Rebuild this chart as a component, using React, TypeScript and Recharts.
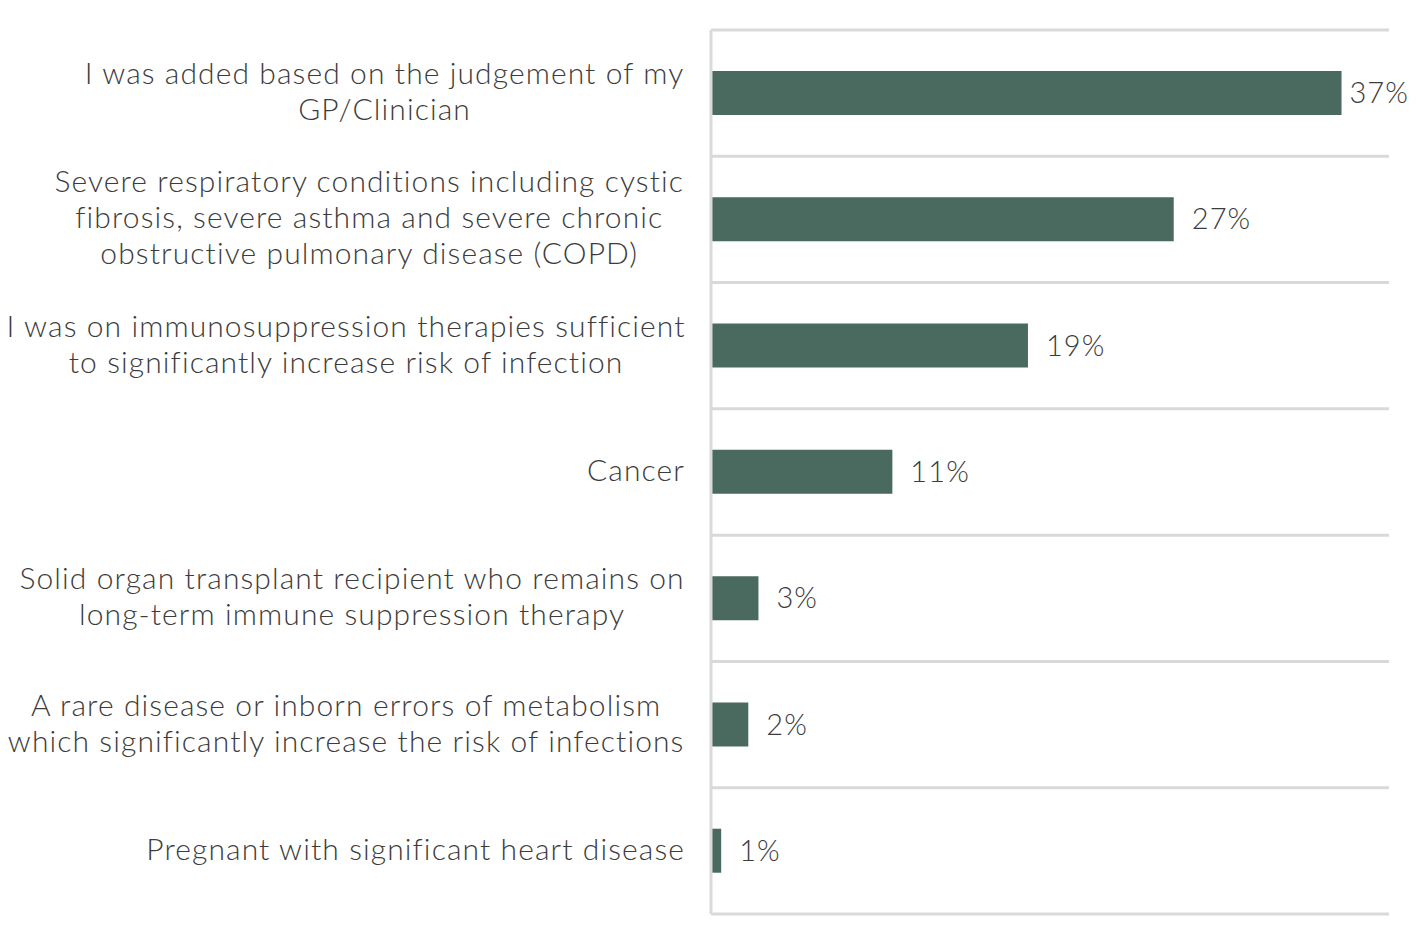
import { BarChart, Bar, XAxis, YAxis, CartesianGrid, LabelList } from 'recharts';

const categories = [
  'I was added based on the judgement of my\nGP/Clinician',
  'Severe respiratory conditions including cystic\nfibrosis, severe asthma and severe chronic\nobstructive pulmonary disease (COPD)',
  'I was on immunosuppression therapies sufficient\nto significantly increase risk of infection',
  'Cancer',
  'Solid organ transplant recipient who remains on\nlong-term immune suppression therapy',
  'A rare disease or inborn errors of metabolism\nwhich significantly increase the risk of infections',
  'Pregnant with significant heart disease',
];
const shares = [37.2, 27.3, 18.7, 10.7, 2.8, 2.2, 0.6];
const xTicks = [0, 10, 20, 30, 40];

const data = categories.map((name, i) => ({ name, value: shares[i] }));

const FONT = 'Lato, "Open Sans", sans-serif';
const TEXT = '#3c3c3c';
const GRID = '#d9d9d9';
const CHART_W = 1416;

let ctx: CanvasRenderingContext2D | null = null;
function measure(s: string, size: number, spacing: number) {
  if (!ctx) ctx = document.createElement('canvas').getContext('2d');
  if (!ctx) return s.length * size * 0.5;
  ctx.font = `300 ${size}px ${FONT}`;
  return ctx.measureText(s).width + s.length * spacing;
}

function CategoryTick(props: any) {
  const { x, y, payload } = props;
  const lines: string[] = String(payload.value).split('\n');
  const blockW = Math.max(...lines.map((l) => measure(l, 30, 1.1)));
  const cx = x - blockW / 2;
  const lh = 36;
  const start = -((lines.length - 1) * lh) / 2;
  return (
    <text
      x={cx}
      y={y}
      textAnchor="middle"
      fill={TEXT}
      fontSize={30}
      fontWeight={300}
      fontFamily={FONT}
      style={{ letterSpacing: 1.1 }}
    >
      {lines.map((l, i) => (
        <tspan key={i} x={cx} y={y + start + i * lh} dy="0.3em">
          {l}
        </tspan>
      ))}
    </text>
  );
}

function ValueLabel(props: any) {
  const { x, y, width, height, value } = props;
  const txt = `${Math.round(Number(value))}%`;
  const w = measure(txt, 29, 1.1);
  // keep the label inside the chart when the bar runs long
  const lx = Math.min(x + width + 18, CHART_W - 7 - w);
  return (
    <text
      x={lx}
      y={y + height / 2}
      dy="0.35em"
      fill={TEXT}
      fontSize={29}
      fontWeight={300}
      fontFamily={FONT}
      style={{ letterSpacing: 1.1 }}
    >
      {txt}
    </text>
  );
}

export default function App() {
  return (
    <div style={{ margin: -8, background: '#fff', width: CHART_W, height: 938, overflow: 'visible' }}>
      <BarChart
        width={CHART_W}
        height={938}
        data={data}
        layout="vertical"
        margin={{ top: 30, right: 27, bottom: 24, left: 0 }}
        barCategoryGap={0}
        style={{ overflow: 'visible' }}
      >
        <CartesianGrid
          vertical={false}
          stroke={GRID}
          strokeWidth={3}
          horizontalCoordinatesGenerator={({ offset }: any) =>
            categories.map((_, i) => offset.top + (i * offset.height) / categories.length).concat(offset.top + offset.height)
          }
        />
        <XAxis type="number" domain={[0, 40]} ticks={xTicks} hide />
        <YAxis
          type="category"
          dataKey="name"
          width={711}
          axisLine={{ stroke: GRID, strokeWidth: 3 }}
          tickLine={false}
          tickSize={0}
          tickMargin={26}
          tick={<CategoryTick />}
          interval={0}
        />
        <Bar dataKey="value" fill="#4a6a60" barSize={44} isAnimationActive={false}>
          <LabelList dataKey="value" content={<ValueLabel />} />
        </Bar>
      </BarChart>
    </div>
  );
}
